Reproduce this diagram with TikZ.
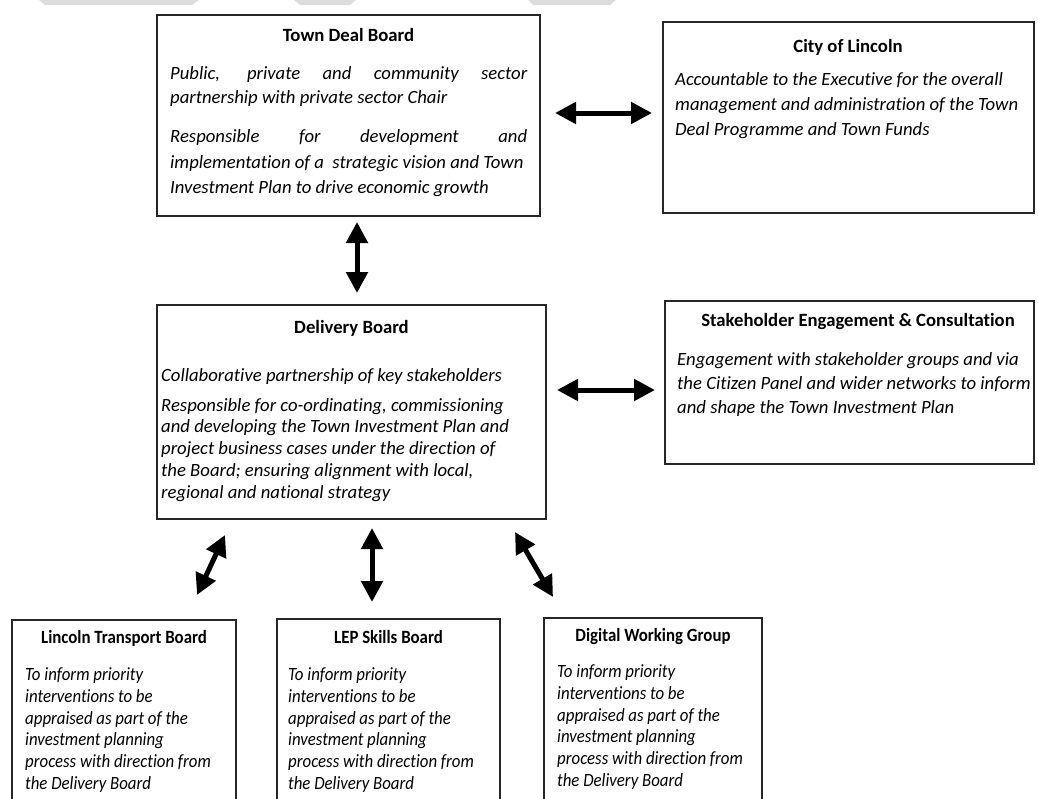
\documentclass[tikz,border=0pt]{standalone}
\usepackage{fontspec}
\usepackage{graphicx}
\setmainfont{Carlito}[Ligatures=NoCommon]
\usetikzlibrary{arrows.meta}
\definecolor{wm}{HTML}{DCDCDC}
\newcommand\topstrut{\rule{0pt}{15pt}}
\newcommand\sqz[1]{\scalebox{0.9}[1]{#1}}
\tikzset{
  box/.style={draw=black!85, line width=1.3pt, inner sep=0pt, outer sep=0pt, anchor=north west},
  head/.style={font=\fontsize{18.7}{22}\selectfont\bfseries, anchor=base, inner sep=0pt},
  body/.style={font=\fontsize{18.7}{#1}\selectfont\itshape, anchor=north west, align=left, inner sep=0pt},
  biarrow/.style={line width=5pt, {Triangle[length=21pt,width=21pt]}-{Triangle[length=21pt,width=21pt]}},
}
\begin{document}
\begin{tikzpicture}[x=1pt,y=-1pt]
\useasboundingbox (0,0) rectangle (1038,798);
\clip (0,0) rectangle (1038,798);
% faint watermark shapes at the top edge
\fill[wm] (38,-1) -- (200,-1) -- (192,5) -- (45,5) -- cycle;
\fill[wm] (293,-1) -- (357,-1) -- (350,5) -- (300,5) -- cycle;
\fill[wm] (527,-1) -- (617,-1) -- (610,5) -- (533,5) -- cycle;
% boxes
\node[box, minimum width=383pt, minimum height=201pt] (tdb) at (157,15) {};
\node[box, minimum width=371pt, minimum height=191pt] (col) at (663,22) {};
\node[box, minimum width=389pt, minimum height=214pt] (db) at (157,305) {};
\node[box, minimum width=369pt, minimum height=163pt] (sec) at (665,301) {};
\node[box, minimum width=224pt, minimum height=185pt] (ltb) at (12,620) {};
\node[box, minimum width=223pt, minimum height=186pt] (lep) at (277,619) {};
\node[box, minimum width=218pt, minimum height=187pt] (dwg) at (544,618) {};
% Town Deal Board
\node[head] (tdbh) at (348.5,41) {Town Deal Board};
\node[body=23.5] (tdbp1) at (170,64.5) {\topstrut\makebox[357pt][s]{Public, private and community sector}\\partnership with private sector Chair};
\node[body=25.5] (tdbp2) at (170,127.5) {\topstrut\makebox[357pt][s]{Responsible for development and}\\implementation of a\ \ strategic vision and Town\\Investment Plan to drive economic growth};
% City of Lincoln
\node[head] (colh) at (848,52) {City of Lincoln};
\node[body=25] (colp) at (675,70) {\topstrut Accountable to the Executive for the overall\\management and administration of the Town\\Deal Programme and Town Funds};
% Delivery Board
\node[head] (dbh) at (351.5,333) {Delivery Board};
\node[body=21.7] (dbp1) at (161,366) {\topstrut Collaborative partnership of key stakeholders};
\node[body=21.7] (dbp2) at (161,396) {\topstrut Responsible for co-ordinating, commissioning\\and developing the Town Investment Plan and\\project business cases under the direction of\\the Board; ensuring alignment with local,\\regional and national strategy};
% Stakeholder Engagement
\node[head] (sech) at (858,326) {Stakeholder Engagement \& Consultation};
\node[body=24] (secp) at (677,350) {\topstrut Engagement with stakeholder groups and via\\the Citizen Panel and wider networks to inform\\and shape the Town Investment Plan};
% bottom boxes
\node[head] (ltbh) at (124,643) {\sqz{Lincoln Transport Board}};
\node[body=21.7] (ltbp) at (25,665.5) {\topstrut\sqz{To inform priority}\\\sqz{interventions to be}\\\sqz{appraised as part of the}\\\sqz{investment planning}\\\sqz{process with direction from}\\\sqz{the Delivery Board}};
\node[head] (leph) at (388.5,643) {\sqz{LEP Skills Board}};
\node[body=21.7] (lepp) at (288,665.5) {\topstrut\sqz{To inform priority}\\\sqz{interventions to be}\\\sqz{appraised as part of the}\\\sqz{investment planning}\\\sqz{process with direction from}\\\sqz{the Delivery Board}};
\node[head] (dwgh) at (653,641) {\sqz{Digital Working Group}};
\node[body=21.7] (dwgp) at (557,662.5) {\topstrut\sqz{To inform priority}\\\sqz{interventions to be}\\\sqz{appraised as part of the}\\\sqz{investment planning}\\\sqz{process with direction from}\\\sqz{the Delivery Board}};
% connectors
\draw[biarrow] ([shift={(15,98)}]tdb.north east) -- ([shift={(-11,91)}]col.north west);
\draw[biarrow] ([shift={(200,6)}]tdb.south west) -- ([shift={(200,-12)}]db.north west);
\draw[biarrow] ([shift={(11,85)}]db.north east) -- ([shift={(-10,89)}]sec.north west);
\draw[biarrow] ([shift={(68,16)}]db.south west) -- ([shift={(185,-25)}]ltb.north west);
\draw[biarrow] ([shift={(215,9)}]db.south west) -- ([shift={(95,-17)}]lep.north west);
\draw[biarrow] ([shift={(-31,13)}]db.south east) -- ([shift={(9,-21)}]dwg.north west);
\end{tikzpicture}
\end{document}
